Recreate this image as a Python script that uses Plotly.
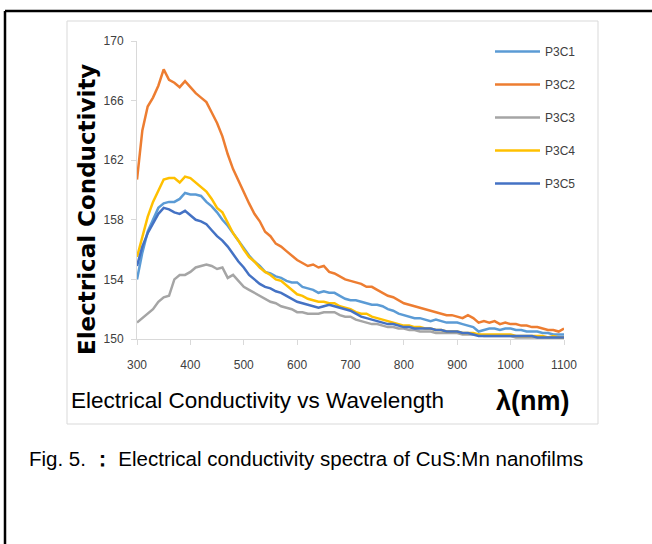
import plotly.graph_objects as go

wavelength = list(range(300, 1101, 10))

p3c1 = [154.0, 155.8, 157.2, 158.0, 158.8, 159.1, 159.2, 159.2, 159.4, 159.8,
        159.7, 159.7, 159.6, 159.2, 158.9, 158.5, 158.0, 157.6, 157.1, 156.6,
        156.1, 155.6, 155.2, 154.9, 154.5, 154.4, 154.2, 154.1, 153.9, 153.8,
        153.8, 153.5, 153.4, 153.3, 153.1, 153.2, 153.1, 153.1, 152.9, 152.7,
        152.6, 152.6, 152.5, 152.4, 152.3, 152.3, 152.2, 152.0, 151.9, 151.7,
        151.6, 151.5, 151.4, 151.4, 151.3, 151.2, 151.3, 151.2, 151.1, 151.1,
        151.1, 151.0, 150.9, 150.8, 150.5, 150.6, 150.7, 150.7, 150.6, 150.7,
        150.7, 150.6, 150.6, 150.5, 150.5, 150.5, 150.4, 150.4, 150.3, 150.3,
        150.3]

p3c2 = [160.7, 164.0, 165.6, 166.2, 167.0, 168.1, 167.4, 167.2, 166.9, 167.3,
        166.9, 166.5, 166.2, 165.9, 165.2, 164.5, 163.6, 162.4, 161.4, 160.6,
        159.8, 159.1, 158.4, 157.9, 157.2, 156.9, 156.4, 156.2, 155.9, 155.6,
        155.3, 155.1, 154.9, 155.0, 154.8, 154.9, 154.5, 154.4, 154.2, 154.0,
        153.9, 153.8, 153.7, 153.5, 153.5, 153.3, 153.1, 152.9, 152.8, 152.6,
        152.4, 152.3, 152.2, 152.1, 152.0, 151.9, 151.8, 151.7, 151.6, 151.6,
        151.5, 151.4, 151.6, 151.4, 151.1, 151.2, 151.1, 151.2, 151.0, 151.1,
        151.0, 151.0, 150.9, 150.9, 150.8, 150.8, 150.7, 150.6, 150.6, 150.5,
        150.7]

p3c3 = [151.1, 151.4, 151.7, 152.0, 152.5, 152.8, 152.9, 154.0, 154.3, 154.3,
        154.5, 154.8, 154.9, 155.0, 154.9, 154.7, 154.8, 154.1, 154.3, 153.9,
        153.5, 153.3, 153.1, 152.9, 152.7, 152.5, 152.4, 152.2, 152.1, 152.0,
        151.8, 151.8, 151.7, 151.7, 151.7, 151.8, 151.8, 151.8, 151.6, 151.5,
        151.5, 151.3, 151.2, 151.1, 151.0, 151.0, 150.9, 150.8, 150.8, 150.7,
        150.7, 150.6, 150.6, 150.5, 150.5, 150.5, 150.4, 150.4, 150.4, 150.4,
        150.4, 150.3, 150.3, 150.3, 150.3, 150.2, 150.2, 150.2, 150.2, 150.2,
        150.2, 150.1, 150.1, 150.1, 150.1, 150.1, 150.1, 150.1, 150.1, 150.1,
        150.1]

p3c4 = [155.5, 156.9, 158.2, 159.2, 159.9, 160.7, 160.8, 160.8, 160.5, 160.9,
        160.8, 160.5, 160.2, 159.9, 159.4, 158.8, 158.5, 157.8, 157.1, 156.6,
        156.0, 155.5, 155.2, 154.8, 154.5, 154.3, 154.0, 153.9, 153.6, 153.3,
        153.0, 152.9, 152.7, 152.6, 152.5, 152.5, 152.4, 152.4, 152.2, 152.1,
        152.0, 151.8, 151.7, 151.7, 151.5, 151.4, 151.3, 151.2, 151.1, 151.0,
        150.9, 150.9, 150.8, 150.8, 150.7, 150.7, 150.6, 150.6, 150.5, 150.5,
        150.5, 150.4, 150.4, 150.4, 150.3, 150.3, 150.3, 150.3, 150.3, 150.3,
        150.3, 150.2, 150.2, 150.2, 150.2, 150.2, 150.2, 150.1, 150.2, 150.1,
        150.1]

p3c5 = [154.9, 156.2, 157.1, 157.8, 158.4, 158.8, 158.7, 158.5, 158.4, 158.6,
        158.3, 158.0, 157.9, 157.7, 157.3, 156.9, 156.6, 156.2, 155.7, 155.2,
        154.8, 154.3, 154.0, 153.7, 153.5, 153.4, 153.2, 153.1, 152.9, 152.7,
        152.5, 152.4, 152.3, 152.2, 152.1, 152.2, 152.3, 152.2, 152.1, 152.0,
        151.9, 151.7, 151.5, 151.4, 151.3, 151.2, 151.1, 151.0, 151.0, 150.9,
        150.8, 150.8, 150.7, 150.7, 150.7, 150.7, 150.6, 150.6, 150.5, 150.5,
        150.5, 150.4, 150.4, 150.3, 150.2, 150.2, 150.2, 150.2, 150.2, 150.2,
        150.2, 150.2, 150.2, 150.2, 150.2, 150.1, 150.1, 150.1, 150.1, 150.1,
        150.1]

series_names = ["P3C1", "P3C2", "P3C3", "P3C4", "P3C5"]
series_values = [p3c1, p3c2, p3c3, p3c4, p3c5]
series_colors = ["#5B9BD5", "#ED7D31", "#A5A5A5", "#FFC000", "#4472C4"]

x_ticks = [300, 400, 500, 600, 700, 800, 900, 1000, 1100]
y_ticks = [150, 154, 158, 162, 166, 170]

fig = go.Figure()
for name, vals, col in zip(series_names, series_values, series_colors):
    fig.add_trace(go.Scatter(x=wavelength, y=vals, name=name, mode="lines",
                             legendgroup=name,
                             line=dict(color=col, width=2.5)))

W, H = 652, 544
L, R, T, B = 137, 564, 41, 339


def px(xp):
    return (xp - L) / (R - L)


def py(yp):
    return (B - yp) / (B - T)


sans = "Liberation Sans, Arial, sans-serif"

fig.update_layout(
    width=W, height=H,
    margin=dict(l=L, r=W - R, t=T, b=H - B),
    paper_bgcolor="white", plot_bgcolor="white",
    showlegend=True,
    legend=dict(x=px(490), y=py(37), xanchor="left", yanchor="top",
                font=dict(family=sans, size=12, color="#404040"),
                tracegroupgap=14, itemwidth=45, bgcolor="rgba(0,0,0,0)"),
    xaxis=dict(range=[300, 1100], tickvals=x_ticks, ticktext=[str(v) for v in x_ticks],
               showgrid=False, zeroline=False, showline=True, linecolor="#D9D9D9",
               linewidth=1, ticks="outside", ticklen=5, tickcolor="#D9D9D9",
               ticklabelstandoff=10,
               tickfont=dict(family=sans, size=12, color="#404040")),
    yaxis=dict(range=[150, 170], tickvals=y_ticks, ticktext=[str(v) for v in y_ticks],
               showgrid=False, zeroline=False, showline=True, linecolor="#D9D9D9",
               linewidth=1, ticks="outside", ticklen=5, tickcolor="#D9D9D9",
               ticklabelstandoff=5,
               tickfont=dict(family=sans, size=12, color="#404040")),
)

shapes = [
    # outer black frame
    dict(type="line", xref="paper", yref="paper", x0=px(5), x1=px(660), y0=py(11), y1=py(11),
         line=dict(color="black", width=2.5)),
    dict(type="line", xref="paper", yref="paper", x0=px(5), x1=px(5), y0=py(11), y1=py(560),
         line=dict(color="black", width=2.5)),
    # inner chart frame
    dict(type="rect", xref="paper", yref="paper", x0=px(67), x1=px(598), y0=py(21), y1=py(424),
         line=dict(color="#D9D9D9", width=1), fillcolor="rgba(0,0,0,0)", layer="below"),
]
fig.update_layout(shapes=shapes)

annotations = [
    dict(text="<b>Electrical Conductivity</b>", x=px(87), y=py(210), xref="paper", yref="paper",
         textangle=-90, showarrow=False, xanchor="center", yanchor="middle",
         font=dict(family="DejaVu Sans, Verdana, sans-serif", size=23, color="black")),
    dict(text="Electrical Conductivity vs Wavelength", x=px(69), y=py(400), xref="paper", yref="paper",
         showarrow=False, xanchor="left", yanchor="middle",
         font=dict(family=sans, size=22.5, color="black")),
    dict(text="<b>λ(nm)</b>", x=px(494), y=py(401), xref="paper", yref="paper",
         showarrow=False, xanchor="left", yanchor="middle",
         font=dict(family=sans, size=27, color="black")),
    dict(text="Fig. 5. <b>：</b> Electrical conductivity spectra of CuS:Mn nanofilms",
         x=px(27), y=py(458), xref="paper", yref="paper",
         showarrow=False, xanchor="left", yanchor="middle",
         font=dict(family=sans, size=20.5, color="black")),
]
fig.update_layout(annotations=annotations)

fig.write_html("out.html")
